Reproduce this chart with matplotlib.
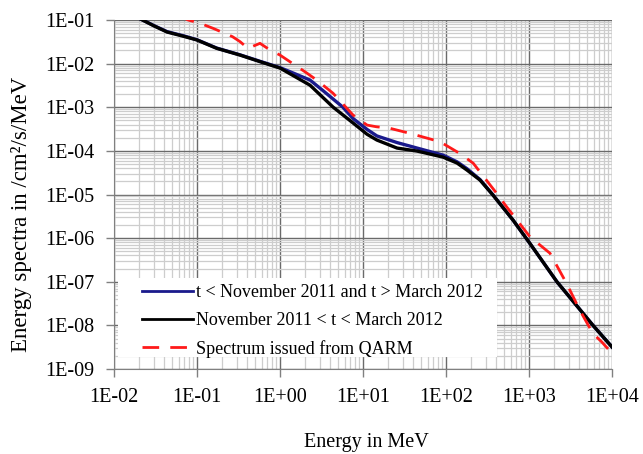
import matplotlib
matplotlib.use("Agg")
import matplotlib.pyplot as plt
from matplotlib.patches import Rectangle
from matplotlib.ticker import LogLocator, FixedLocator, FixedFormatter, NullFormatter

# ---- data ----
black_x = [0.02, 0.03, 0.0436, 0.07, 0.1, 0.173, 0.33, 0.574, 1.0, 2.3, 4.35, 7.6, 11.2, 14.7,
           25.7, 44.8, 92, 136, 179, 257, 368, 641, 1028, 2170, 5900, 10000]
black_y = [0.11, 0.074, 0.053, 0.042, 0.0348, 0.0224, 0.0157, 0.0111, 0.0079, 0.0032, 0.00101,
           0.000435, 0.00024, 0.000177, 0.000116, 9.9e-5, 7.2e-5, 5.25e-5, 3.63e-5, 2.14e-5,
           9.7e-6, 2.6e-6, 7.5e-7, 1.0e-7, 1.0e-8, 3.2e-9]

blue_x = [0.02, 0.03, 0.0436, 0.07, 0.1, 0.173, 0.33, 0.574, 1.0, 1.5, 2.3, 3.3, 5.7, 7.6, 11.2,
          14.7, 25.7, 44.8, 92, 136, 179, 257, 368, 641, 1028, 2170, 5900, 10000]
blue_y = [0.11, 0.075, 0.054, 0.043, 0.0352, 0.0227, 0.0159, 0.0113, 0.0081, 0.0059, 0.0042,
          0.0024, 0.00101, 0.00055, 0.00031, 0.00022, 0.000155, 0.000116, 8.0e-5, 5.6e-5,
          3.9e-5, 2.2e-5, 9.8e-6, 2.6e-6, 7.5e-7, 1.0e-7, 1.0e-8, 3.2e-9]

red_x = [0.06, 0.078, 0.109, 0.156, 0.268, 0.33, 0.411, 0.574, 0.759, 1.0, 2.0, 2.77, 4.35, 7.6,
         11.2, 14.5, 21, 36.8, 84.7, 147, 213, 408, 538, 1028, 1790, 2840, 4110, 5900, 7500, 9600]
red_y = [0.13, 0.1, 0.084, 0.0645, 0.0414, 0.0319, 0.0224, 0.0292, 0.0205, 0.0157, 0.0065,
         0.0042, 0.0021, 0.00066, 0.00039, 0.000357, 0.00033, 0.000252, 0.000162, 8.7e-5,
         5.2e-5, 1.06e-5, 5.2e-6, 1.07e-6, 4.5e-7, 9.1e-8, 2.2e-8, 6.5e-9, 4.2e-9, 2.5e-9]

x_ticks = [1e-2, 1e-1, 1e0, 1e1, 1e2, 1e3, 1e4]
x_labels = ["1E-02", "1E-01", "1E+00", "1E+01", "1E+02", "1E+03", "1E+04"]
y_ticks = [1e-9, 1e-8, 1e-7, 1e-6, 1e-5, 1e-4, 1e-3, 1e-2, 1e-1]
y_labels = ["1E-09", "1E-08", "1E-07", "1E-06", "1E-05", "1E-04", "1E-03", "1E-02", "1E-01"]

labels = ["t < November 2011 and t > March 2012",
          "November 2011 < t < March 2012",
          "Spectrum issued from QARM"]

plt.rcParams['font.family'] = ['Liberation Serif', 'DejaVu Serif']

W, H = 643, 454
fig = plt.figure(figsize=(W / 100, H / 100), dpi=100)
ax = fig.add_axes([114 / W, 1 - 369 / H, (612 - 114) / W, (369 - 20) / H])
ax.set_xscale('log')
ax.set_yscale('log')
ax.set_xlim(1e-2, 1e4)
ax.set_ylim(1e-9, 1e-1)

ax.plot(blue_x, blue_y, color='#1a1a8c', lw=2.4, label=labels[0], zorder=3,
        solid_joinstyle='round')
ax.plot(black_x, black_y, color='black', lw=2.4, label=labels[1], zorder=4,
        solid_joinstyle='round')
ax.plot(red_x, red_y, color='#ff1a1a', lw=2.0, dashes=(6, 4), label=labels[2], zorder=5)

ax.xaxis.set_major_locator(FixedLocator(x_ticks))
ax.xaxis.set_major_formatter(FixedFormatter(x_labels))
ax.yaxis.set_major_locator(FixedLocator(y_ticks))
ax.yaxis.set_major_formatter(FixedFormatter(y_labels))
ax.xaxis.set_minor_locator(LogLocator(base=10, subs=range(2, 10), numticks=20))
ax.yaxis.set_minor_locator(LogLocator(base=10, subs=range(2, 10), numticks=20))
ax.xaxis.set_minor_formatter(NullFormatter())
ax.yaxis.set_minor_formatter(NullFormatter())

ax.grid(which='major', color='#6a6a6a', lw=1.0)
ax.grid(which='minor', color='#cdcdcd', lw=0.9)
ax.set_axisbelow(True)

ax.tick_params(which='major', direction='out', length=6, color='#808080', width=1,
               labelsize=14.5, pad=8)
ax.tick_params(which='minor', length=0)
for side in ['left', 'bottom']:
    ax.spines[side].set_color('#808080')
for side in ['right', 'top']:
    ax.spines[side].set_visible(False)

fig.text(366 / W, 1 - 443 / H, "Energy in MeV", fontsize=14.5, ha='center', va='center')
fig.text(22 / W, 1 - 214 / H, "Energy spectra in /cm²/s/MeV", fontsize=16.5, rotation=90,
         ha='center', va='center')

# white legend background box
ax.add_patch(Rectangle((4 / 498, (369 - 357) / 349), 379 / 498, 79 / 349,
                       transform=ax.transAxes, facecolor='white', edgecolor='none',
                       zorder=2.5))

leg = ax.legend(loc='upper left', bbox_to_anchor=((142 - 114) / 498, (369 - 284) / 349),
                fontsize=13, frameon=False, handlelength=2.8, handletextpad=0.2,
                borderpad=0, labelspacing=0.6, borderaxespad=0)
leg.set_zorder(6)
for line in leg.get_lines():
    line.set_linewidth(2.0)

fig.savefig("out.png", dpi=100)
